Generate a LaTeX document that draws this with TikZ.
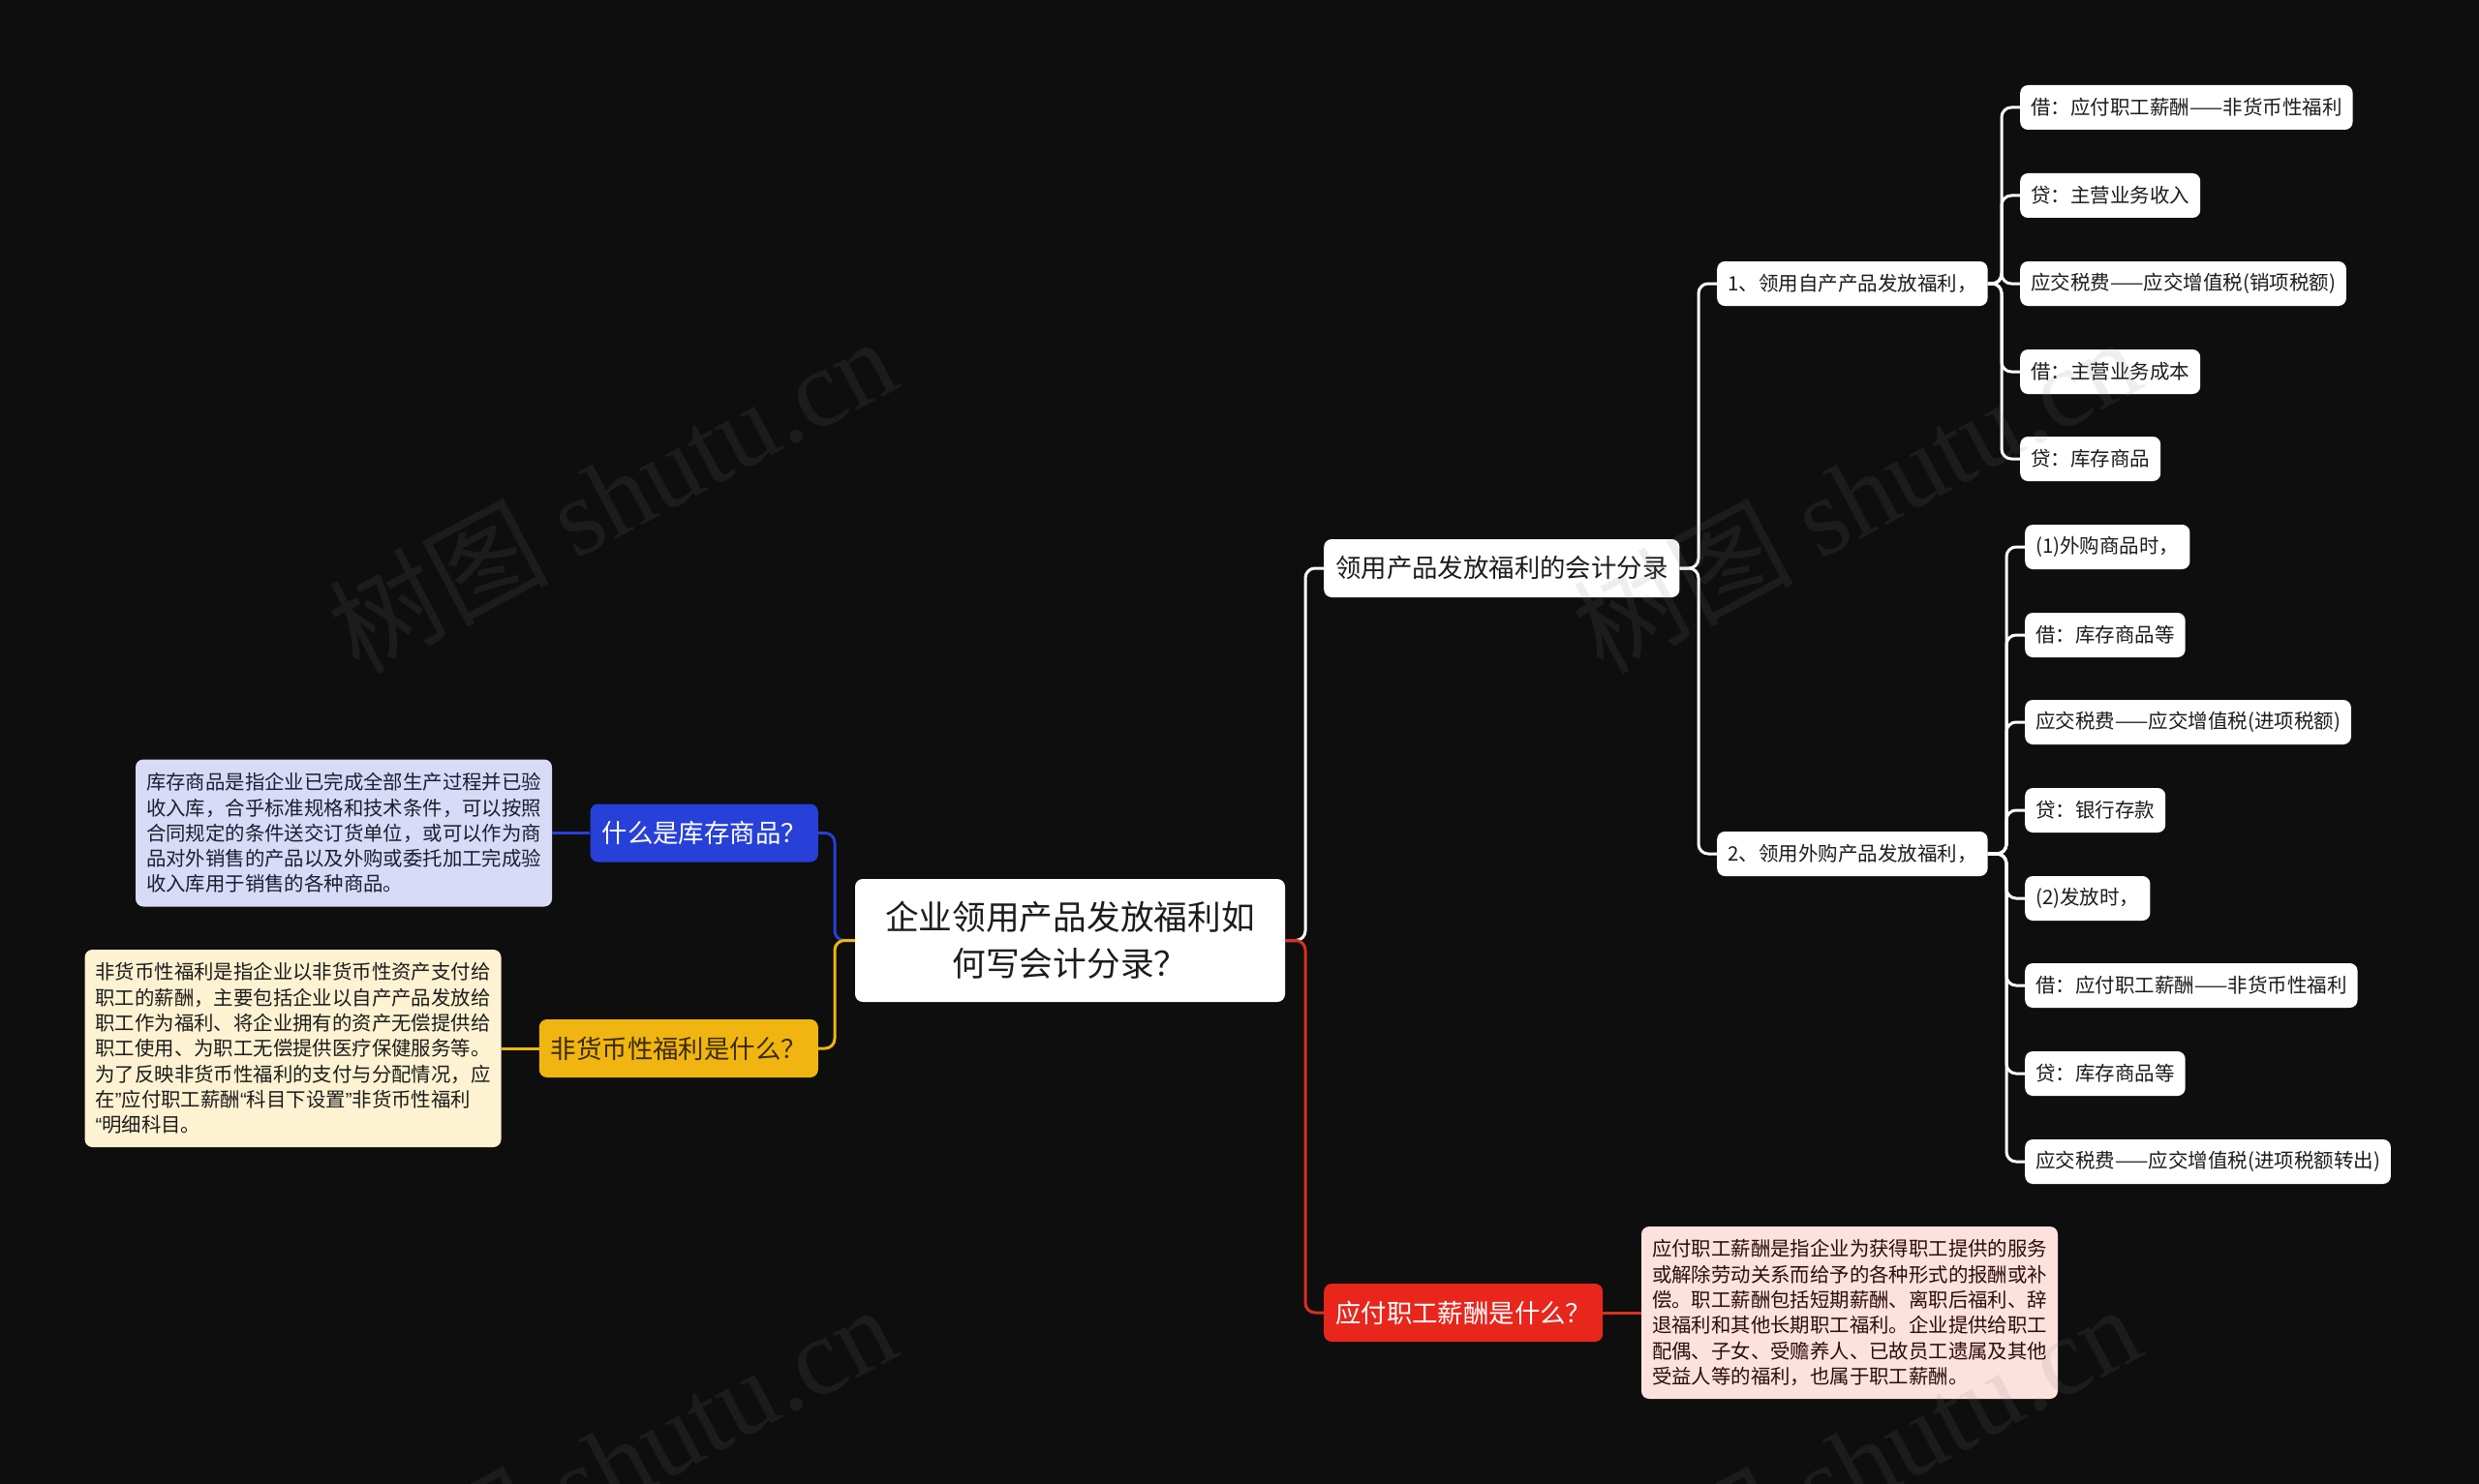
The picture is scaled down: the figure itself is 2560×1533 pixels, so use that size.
\documentclass[tikz,border=0pt]{standalone}
\usepackage{fontspec}
\setmainfont{Noto Sans CJK SC}
\newfontfamily\wmserif{Liberation Serif}
\newfontfamily\latq{Liberation Sans}
\definecolor{bgc}{HTML}{0E0E0E}
\definecolor{bluec}{HTML}{2740D8}
\definecolor{bluedesc}{HTML}{D7DBF7}
\definecolor{yelc}{HTML}{F0B510}
\definecolor{yeltext}{HTML}{3A2B00}
\definecolor{yeldesc}{HTML}{FDF2D1}
\definecolor{redc}{HTML}{E8261C}
\definecolor{redline}{HTML}{D8301F}
\definecolor{reddesc}{HTML}{FDE1DD}
\definecolor{darktext}{HTML}{1C1C1C}
\definecolor{redtext}{HTML}{2B0E0B}
\definecolor{bluetext}{HTML}{1C1E30}
\newcommand\fleaf{\fontsize{20.5pt}{24pt}\selectfont}
\newcommand\fmid{\fontsize{26.4pt}{30pt}\selectfont}
\newcommand\froot{\fontsize{34.7pt}{48pt}\selectfont}
\newcommand\fdesc{\fontsize{20.4pt}{26.3pt}\selectfont}
\newcommand\fwm{\fontsize{114pt}{114pt}\selectfont}
\newcommand\qr{{\latq ”}}
\newcommand\ql{{\latq “}}
\begin{document}
\begin{tikzpicture}[x=1pt,y=-1pt,
  basebox/.style={rounded corners=8pt, inner ysep=0pt, inner xsep=11pt},
  leaf/.style={basebox, fill=white, text=darktext, minimum height=46pt, anchor=west, font=\fleaf},
  mid/.style={basebox, inner xsep=12pt, minimum height=60pt, font=\fmid},
  desc/.style={basebox, align=left, font=\fdesc, text width=408pt},
  rootbox/.style={basebox, fill=white, text=darktext, align=center, font=\froot, minimum width=444pt, minimum height=127pt},
  conn/.style={line width=3pt, rounded corners=10pt},
  wm/.style={anchor=base west, rotate=28, text=gray, text opacity=0.13, font=\fwm, inner sep=0pt}
]
\fill[bgc] (0,0) rectangle (2560,1533);
\useasboundingbox (0,0) rectangle (2560,1533);

% central node
\node[rootbox] (root) at (1105,971.5) {企业领用产品发放福利如\\何写会计分录？};

% left branch
\node[mid, fill=bluec, text=white, anchor=east] (q1) at (845,860.5) {什么是库存商品？};
\node[mid, fill=yelc, text=yeltext, anchor=east] (q2) at (845,1083) {非货币性福利是什么？};
\node[desc, fill=bluedesc, text=bluetext, minimum height=152pt] (d1) at (355,860.5) {库存商品是指企业已完成全部生产过程并已验\\收入库，合乎标准规格和技术条件，可以按照\\合同规定的条件送交订货单位，或可以作为商\\品对外销售的产品以及外购或委托加工完成验\\收入库用于销售的各种商品。};
\node[desc, fill=yeldesc, text=darktext, minimum height=204pt] (d2) at (302.5,1083) {非货币性福利是指企业以非货币性资产支付给\\职工的薪酬，主要包括企业以自产产品发放给\\职工作为福利、将企业拥有的资产无偿提供给\\职工使用、为职工无偿提供医疗保健服务等。\\为了反映非货币性福利的支付与分配情况，应\\在\qr 应付职工薪酬\ql 科目下设置\qr 非货币性福利\\\ql 明细科目。};

% right branch
\node[mid, fill=white, text=darktext, anchor=west] (l1) at (1367,587) {领用产品发放福利的会计分录};
\node[mid, fill=redc, text=white, anchor=west] (q3) at (1367,1356) {应付职工薪酬是什么？};
\node[desc, fill=reddesc, text=redtext, minimum height=178pt] (d3) at (1910,1356) {应付职工薪酬是指企业为获得职工提供的服务\\或解除劳动关系而给予的各种形式的报酬或补\\偿。职工薪酬包括短期薪酬、离职后福利、辞\\退福利和其他长期职工福利。企业提供给职工\\配偶、子女、受赡养人、已故员工遗属及其他\\受益人等的福利，也属于职工薪酬。};

\node[leaf] (s1) at (1773,293) {1、领用自产产品发放福利，};
\node[leaf] (s2) at (1773,882) {2、领用外购产品发放福利，};

\node[leaf] (a1) at (2086,111) {借：应付职工薪酬——非货币性福利};
\node[leaf] (a2) at (2086,202) {贷：主营业务收入};
\node[leaf] (a3) at (2086,293) {应交税费——应交增值税(销项税额)};
\node[leaf] (a4) at (2086,384) {借：主营业务成本};
\node[leaf] (a5) at (2086,474) {贷：库存商品};

\node[leaf] (b1) at (2091,565) {(1)外购商品时，};
\node[leaf] (b2) at (2091,656) {借：库存商品等};
\node[leaf] (b3) at (2091,746) {应交税费——应交增值税(进项税额)};
\node[leaf] (b4) at (2091,837) {贷：银行存款};
\node[leaf] (b5) at (2091,928) {(2)发放时，};
\node[leaf] (b6) at (2091,1018) {借：应付职工薪酬——非货币性福利};
\node[leaf] (b7) at (2091,1109) {贷：库存商品等};
\node[leaf] (b8) at (2091,1200) {应交税费——应交增值税(进项税额转出)};

% junction coordinates
\coordinate (jl) at (862,971.5);
\coordinate (jr) at (1348,971.5);
\coordinate (j0) at (1754,587);
\coordinate (j1) at (2067,293);
\coordinate (j2) at (2072,882);

% connectors
\draw[conn, bluec] (root.west) -- (jl) |- (q1.east);
\draw[conn, yelc] (root.west) -- (jl) |- (q2.east);
\draw[conn, bluec] (d1.east) -- (q1.west);
\draw[conn, yelc] (d2.east) -- (q2.west);
\draw[conn, white] (root.east) -- (jr) |- (l1.west);
\draw[conn, redline] (root.east) -- (jr) |- (q3.west);
\draw[conn, redline] (q3.east) -- (d3.west);
\foreach \t in {s1,s2} \draw[conn, white] (l1.east) -- (j0) |- (\t.west);
\foreach \t in {a1,a2,a3,a4,a5} \draw[conn, white] (s1.east) -- (j1) |- (\t.west);
\foreach \t in {b1,b2,b3,b4,b5,b6,b7,b8} \draw[conn, white] (s2.east) -- (j2) |- (\t.west);

% watermarks
\begin{scope}
\clip (0,0) rectangle (2560,1533);
\node[wm] (wm1) at (370,698) {树图 {\wmserif shutu.cn}};
\node[wm] (wm2) at (1655,698) {树图 {\wmserif shutu.cn}};
\node[wm] (wm3) at (370,1698) {树图 {\wmserif shutu.cn}};
\node[wm] (wm4) at (1655,1698) {树图 {\wmserif shutu.cn}};
\end{scope}
\end{tikzpicture}
\end{document}
